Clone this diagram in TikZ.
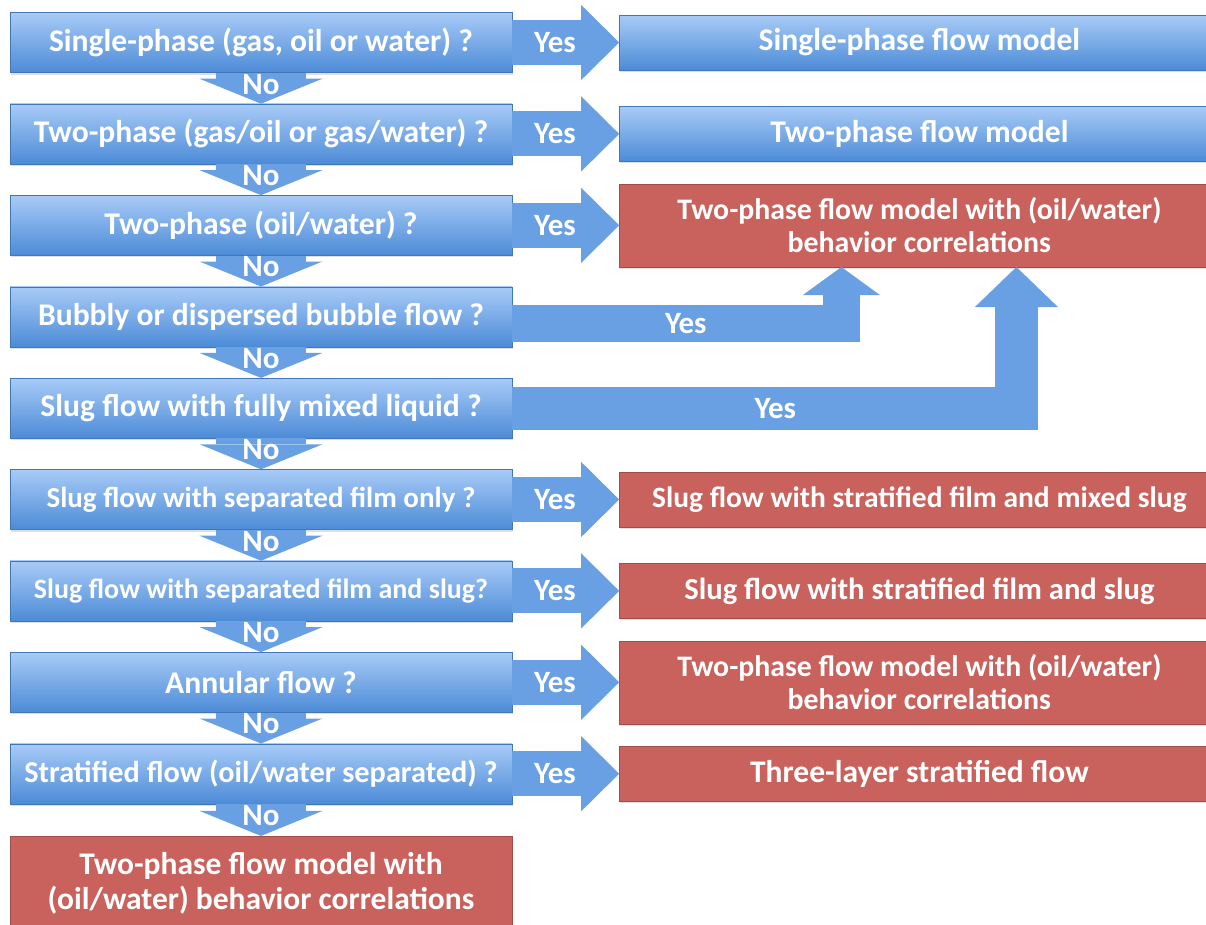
\documentclass[tikz,border=0pt]{standalone}
\usepackage{fontspec}
\setmainfont{Carlito}
\usetikzlibrary{arrows.meta, positioning, shadows}
\definecolor{boxtop}{RGB}{168,203,247}
\definecolor{boxbot}{RGB}{76,139,215}
\definecolor{arrowblue}{RGB}{104,160,227}
\definecolor{resred}{RGB}{201,98,92}

\begin{document}
\begin{tikzpicture}[
    x=1pt, y=1pt,
    node distance=31pt and 107pt,
    question/.style={
        rectangle, 
        draw=boxbot!85!black, 
        top color=boxtop, 
        bottom color=boxbot, 
        thin, 
        minimum width=502pt, 
        minimum height=60pt, 
        inner sep=2pt,
        align=center,
        text=white,
        font=\bfseries\fontsize{31.6}{34}\selectfont,
        drop shadow={opacity=0.25, shadow xshift=1pt, shadow yshift=-2pt}
    },
    model/.style={
        question, 
        minimum width=600pt, 
        minimum height=55pt
    },
    answer/.style={
        rectangle, 
        draw=resred!80!black, 
        fill=resred, 
        thin, 
        minimum width=600pt, 
        minimum height=55pt, 
        inner sep=2pt,
        align=center,
        text=white,
        font=\bfseries\fontsize{29.8}{33}\selectfont,
        drop shadow={opacity=0.25, shadow xshift=1pt, shadow yshift=-2pt}
    },
    lbl/.style={
        text=white, 
        font=\bfseries\fontsize{31}{34}\selectfont
    },
    yesarrow/.style={
        draw=arrowblue, 
        line width=45pt, 
        -{Triangle[length=38pt, width=75pt, line width=0pt]}
    },
    noarrow/.style={
        draw=arrowblue, 
        line width=90pt, 
        -{Triangle[length=25pt, width=123pt, line width=0pt]}
    }
]
    \useasboundingbox (0,0) rectangle (1206,-924);

    % Questions
    \node [question] at (261,-42.5) (q1) {Single-phase (gas, oil or water) ?};
    \node [question, below=of q1] (q2) {Two-phase (gas/oil or gas/water) ?};
    \node [question, below=of q2] (q3) {Two-phase (oil/water) ?};
    \node [question, below=of q3] (q4) {Bubbly or dispersed bubble flow ?};
    \node [question, below=of q4] (q5) {Slug flow with fully mixed liquid ?};
    \node [question, below=of q5, font=\bfseries\fontsize{29}{32}\selectfont] (q6) {Slug flow with separated film only ?};
    \node [question, below=of q6, font=\bfseries\fontsize{28}{32}\selectfont] (q7) {Slug flow with separated film and slug?};
    \node [question, below=of q7] (q8) {Annular flow ?};
    \node [question, below=of q8, font=\bfseries\fontsize{30.3}{32}\selectfont] (q9) {Stratified flow (oil/water separated) ?};
    \node [answer, below=32pt of q9, minimum width=502pt, minimum height=95pt, font=\bfseries\fontsize{31.5}{35}\selectfont] (last) {Two-phase flow model with\\ (oil/water) behavior correlations};

    % Models
    \node [model, right=of q1] (m1) {Single-phase flow model};
    \node [model, right=of q2] (m2) {Two-phase flow model};
    \node [answer, right=of q3, minimum height=83pt] (m3) {Two-phase flow model with (oil/water)\\ behavior correlations};
    \node [answer, right=of q6, font=\bfseries\fontsize{29.5}{33}\selectfont] (m6) {Slug flow with stratified film and mixed slug};
    \node [answer, right=of q7, font=\bfseries\fontsize{30.6}{33}\selectfont] (m7) {Slug flow with stratified film and slug};
    \node [answer, right=of q8, minimum height=83pt] (m8) {Two-phase flow model with (oil/water)\\ behavior correlations};
    \node [answer, right=of q9, font=\bfseries\fontsize{31.5}{35}\selectfont] (m9) {Three-layer stratified flow};

    % No arrows
    \draw [noarrow] (q1) -- node [lbl, yshift=4pt] {No} (q2);
    \draw [noarrow] (q2) -- node [lbl, yshift=4pt] {No} (q3);
    \draw [noarrow] (q3) -- node [lbl, yshift=4pt] {No} (q4);
    \draw [noarrow] (q4) -- node [lbl, yshift=4pt] {No} (q5);
    \draw [noarrow] (q5) -- node [lbl, yshift=4pt] {No} (q6);
    \draw [noarrow] (q6) -- node [lbl, yshift=4pt] {No} (q7);
    \draw [noarrow] (q7) -- node [lbl, yshift=4pt] {No} (q8);
    \draw [noarrow] (q8) -- node [lbl, yshift=4pt] {No} (q9);
    \draw [noarrow] (q9) -- node [lbl, yshift=4pt] {No} (last);

    % Yes arrows
    \draw [yesarrow] (q1) -- node [lbl, pos=0.4] {Yes} (m1);
    \draw [yesarrow] (q2) -- node [lbl, pos=0.4] {Yes} (m2);
    \draw [yesarrow] (q3) -- node [lbl, pos=0.4] {Yes} (m3);
    \draw [yesarrow] (q6) -- node [lbl, pos=0.4] {Yes} (m6);
    \draw [yesarrow] (q7) -- node [lbl, pos=0.4] {Yes} (m7);
    \draw [yesarrow] (q8) -- node [lbl, pos=0.4] {Yes} (m8);
    \draw [yesarrow] (q9) -- node [lbl, pos=0.4] {Yes} (m9);

    % Bent arrows into m3
    \draw [yesarrow, line width=37pt, -{Triangle[length=28pt, width=77pt, line width=0pt]}]
        ([yshift=-7pt]q4.east) -| ([xshift=-78pt]m3.south) node [lbl, pos=0.25, xshift=9pt] {Yes};
    \draw [yesarrow, line width=43pt, -{Triangle[length=40pt, width=83pt, line width=0pt]}]
        (q5.east) -| ([xshift=97pt]m3.south) node [lbl, pos=0.25, xshift=11pt] {Yes};
\end{tikzpicture}
\end{document}
